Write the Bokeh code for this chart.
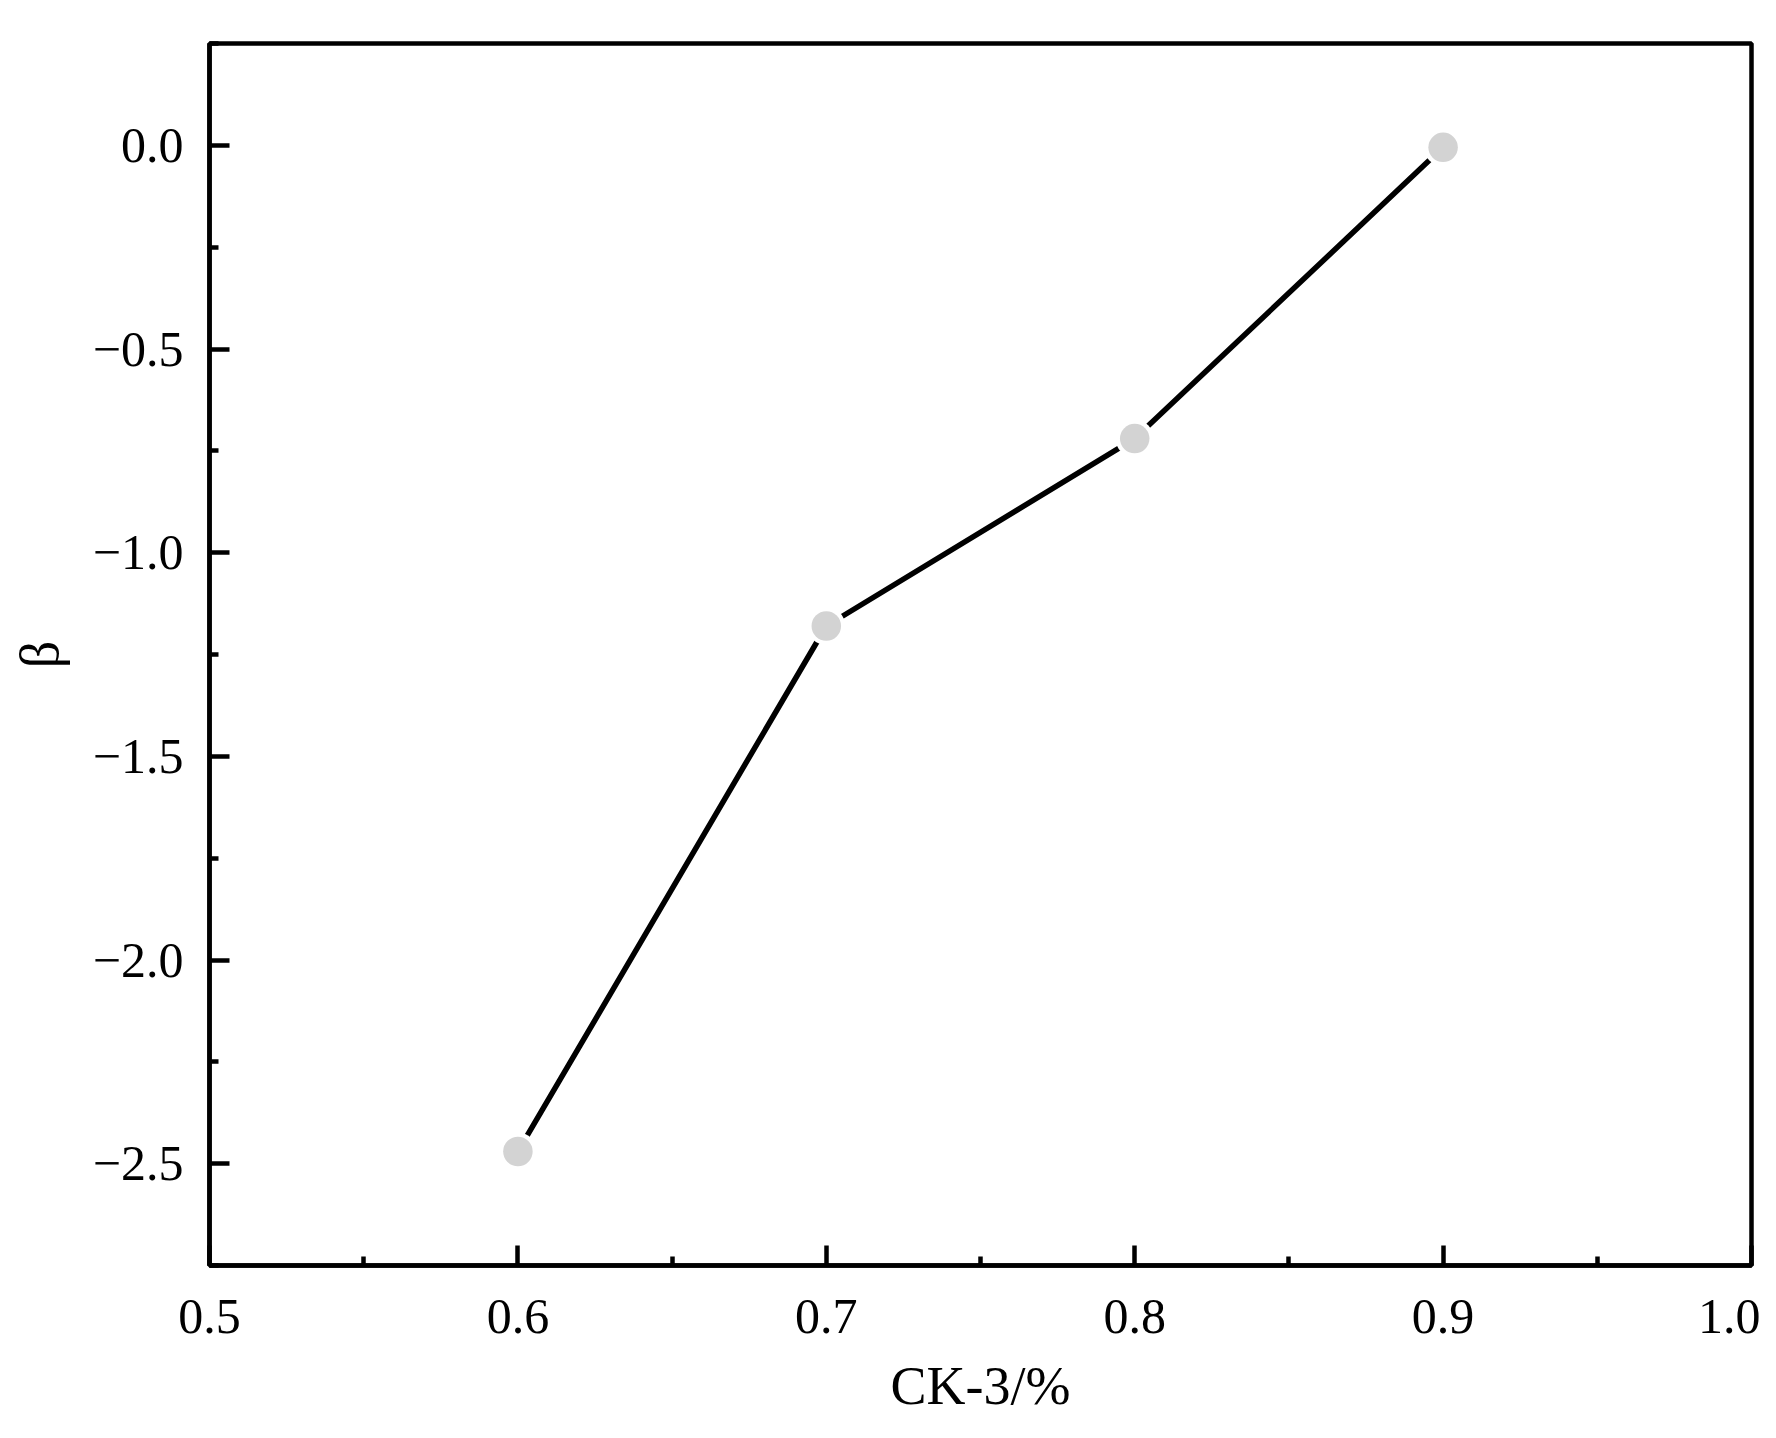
from bokeh.plotting import figure
from bokeh.models import FixedTicker, CustomJSTickFormatter, Range1d
from bokeh.embed import file_html
from bokeh.resources import INLINE

# data
ck3 = [0.6, 0.7, 0.8, 0.9]
beta = [-2.47, -1.18, -0.72, -0.005]

x_major = [0.5, 0.6, 0.7, 0.8, 0.9, 1.0]
x_minor = [0.55, 0.65, 0.75, 0.85, 0.95]
y_major = [0.0, -0.5, -1.0, -1.5, -2.0, -2.5]
y_minor = [0.25, -0.25, -0.75, -1.25, -1.75, -2.25, -2.75]

FONT = "Liberation Serif"

p = figure(width=1760, height=1420, output_backend="svg", toolbar_location=None,
           x_range=Range1d(0.5, 1.0), y_range=Range1d(-2.75, 0.25),
           min_border_left=209, min_border_right=9, min_border_top=43,
           min_border_bottom=155)
p.background_fill_color = "white"
p.border_fill_color = "white"
p.grid.visible = False
p.outline_line_color = "black"
p.outline_line_width = 4.5
p.outline_line_alpha = 1.0

p.line(ck3, beta, line_color="black", line_width=5.5)
p.scatter(ck3, beta, size=38, fill_color="white", line_color=None)
p.scatter(ck3, beta, size=29.5, fill_color="#d3d3d3", line_color=None)

fmt = CustomJSTickFormatter(code="return tick.toFixed(1).replace('-', '\u2212');")

p.xaxis.ticker = FixedTicker(ticks=x_major, minor_ticks=x_minor)
p.yaxis.ticker = FixedTicker(ticks=y_major, minor_ticks=y_minor)
p.xaxis.formatter = fmt
p.yaxis.formatter = fmt

for ax in (p.xaxis[0], p.yaxis[0]):
    ax.axis_line_width = 4.5
    ax.axis_line_color = "black"
    ax.major_tick_in = 20
    ax.major_tick_out = 0
    ax.minor_tick_in = 9
    ax.minor_tick_out = 0
    ax.major_tick_line_width = 4.5
    ax.minor_tick_line_width = 4.5
    ax.major_tick_line_color = "black"
    ax.minor_tick_line_color = "black"
    ax.major_label_text_font = FONT
    ax.major_label_text_font_size = "50px"
    ax.major_label_text_color = "black"
    ax.axis_label_text_font = FONT
    ax.axis_label_text_font_size = "54px"
    ax.axis_label_text_font_style = "normal"
    ax.axis_label_text_color = "black"

p.xaxis.axis_label = "CK-3/%"
p.yaxis.axis_label = "β"
p.xaxis.major_label_standoff = 34
p.yaxis.major_label_standoff = 26
p.xaxis.axis_label_standoff = 20
p.yaxis.axis_label_standoff = 20

open("out.html", "w").write(file_html(p, INLINE))
